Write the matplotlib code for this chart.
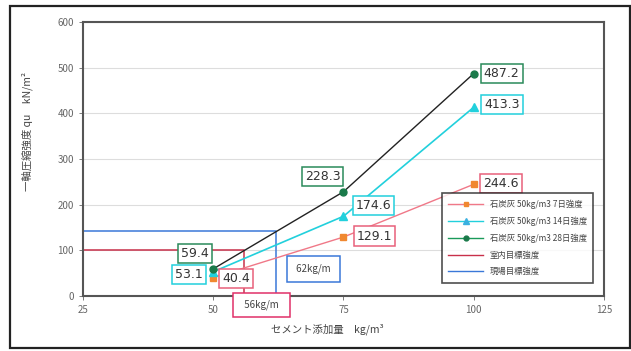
import matplotlib
matplotlib.use("Agg")
import matplotlib.pyplot as plt
from matplotlib.lines import Line2D
from matplotlib.patches import Rectangle

plt.rcParams['font.family'] = ['Noto Sans CJK JP', 'DejaVu Sans']

# cement content (kg/m3) and unconfined compressive strength qu (kN/m2)
cement = [50, 75, 100]
qu_7d = [40.4, 129.1, 244.6]
qu_14d = [53.1, 174.6, 413.3]
qu_28d = [59.4, 228.3, 487.2]
series_labels = ["石炭灰 50kg/m3 7日強度", "石炭灰 50kg/m3 14日強度", "石炭灰 50kg/m3 28日強度"]

# target strengths and the cement content that reaches each
target_labels = ["室内目標強度", "現場目標強度"]
target_strength = [100, 142]
target_cement = [56, 62]
target_texts = ["56kg/m", "62kg/m"]

x_ticks = [25, 50, 75, 100, 125]
y_ticks = [0, 100, 200, 300, 400, 500, 600]

fig = plt.figure(figsize=(6.31, 3.51), dpi=100)
ax = fig.add_axes([0.1315, 0.1567, 0.8257, 0.7806])

# outer frame around the whole figure
fig.patches.append(Rectangle((0.016, 0.008), 0.982, 0.976, transform=fig.transFigure,
                             fill=False, edgecolor='#222222', linewidth=1.6))

ax.set_xlim(25, 125)
ax.set_ylim(0, 600)
ax.set_xticks(x_ticks)
ax.set_yticks(y_ticks)
ax.tick_params(labelsize=7, colors='#666666', length=3, width=0.6)
ax.grid(axis='y', color='#dddddd', linewidth=0.8)
ax.set_axisbelow(True)
for s in ax.spines.values():
    s.set_color('#555555')
    s.set_linewidth(1.5)

c7_line, c7_mark = '#f07888', '#f08830'
c14 = '#22d0dc'
c28_line, c28_mark = '#222222', '#1a7a4a'
red, blue = '#c8304a', '#3a78d8'

# target strength guide lines
ax.plot([25, target_cement[0], target_cement[0]], [target_strength[0], target_strength[0], 0],
        color=red, lw=1.1)
ax.plot([25, target_cement[1], target_cement[1]], [target_strength[1], target_strength[1], 0],
        color=blue, lw=1.1)

ax.plot(cement, qu_7d, color=c7_line, lw=1.0, marker='s', ms=5,
        mfc=c7_mark, mec=c7_mark, zorder=3)
ax.plot(cement, qu_14d, color=c14, lw=1.2, marker='^', ms=5.5,
        mfc=c14, mec=c14, zorder=3)
ax.plot(cement, qu_28d, color=c28_line, lw=1.0, marker='o', ms=5,
        mfc=c28_mark, mec=c28_mark, zorder=4)

def boxed(x, y, text, dx, dy, edge, fs=9):
    ax.annotate(text, (x, y), xytext=(dx, dy), textcoords='offset pixels',
                ha='center', va='center', fontsize=fs, color='#333333',
                family=['DejaVu Sans'],
                bbox=dict(boxstyle='square,pad=0.25', fc='white', ec=edge, lw=1.1),
                annotation_clip=False, zorder=5)

green_edge = '#2a8a5a'
pink_edge = '#e8607a'
offsets_7 = [(23, -1), (31, 1), (27, 1)]
offsets_14 = [(-24, -3), (30, 11), (28, 3)]
offsets_28 = [(-18, 15), (-21, 15), (28, 0)]
for x, y, o in zip(cement, qu_7d, offsets_7):
    boxed(x, y, f"{y:.1f}", o[0], o[1], pink_edge)
for x, y, o in zip(cement, qu_14d, offsets_14):
    boxed(x, y, f"{y:.1f}", o[0], o[1], c14)
for x, y, o in zip(cement, qu_28d, offsets_28):
    boxed(x, y, f"{y:.1f}", o[0], o[1], green_edge)

# cement content read-offs
ax.annotate("  " + target_texts[0] + "  ", (target_cement[0], 0), xytext=(17, -9),
            textcoords='offset pixels', ha='center', va='center', fontsize=7,
            color='#444444', annotation_clip=False, zorder=6,
            bbox=dict(boxstyle='square,pad=0.7', fc='white', ec='#e03068', lw=1.1))
ax.annotate(" " + target_texts[1] + " ", (target_cement[1], 0), xytext=(38, 27),
            textcoords='offset pixels', ha='center', va='center', fontsize=7,
            color='#444444', annotation_clip=False, zorder=6,
            bbox=dict(boxstyle='square,pad=0.75', fc='white', ec=blue, lw=1.1))

ax.set_xlabel("セメント添加量　kg/m³", fontsize=7.5, color='#444444')
ax.xaxis.set_label_coords(0.47, -0.1)
ax.set_ylabel("一軸圧縮強度 qu　kN/m²", fontsize=7.5, color='#444444')
ax.yaxis.set_label_coords(-0.095, 0.6)

handles = [
    Line2D([], [], color=c7_line, marker='s', mfc=c7_mark, mec=c7_mark, ms=3.5, lw=1),
    Line2D([], [], color=c14, marker='^', mfc='#3ab0e0', mec='#3ab0e0', ms=4, lw=1),
    Line2D([], [], color='#1a9a5a', marker='o', mfc=c28_mark, mec=c28_mark, ms=3.5, lw=1),
    Line2D([], [], color=red, lw=1),
    Line2D([], [], color=blue, lw=1),
]
leg = ax.legend(handles, series_labels + target_labels, loc='upper left',
                bbox_to_anchor=(0.689, 0.376), fontsize=6, frameon=True,
                fancybox=False, edgecolor='#222222', handlelength=4.2,
                labelspacing=0.92, borderpad=0.75, borderaxespad=0)
leg.get_frame().set_linewidth(1.2)
for t in leg.get_texts():
    t.set_color('#444444')

fig.savefig("out.png", dpi=100)
